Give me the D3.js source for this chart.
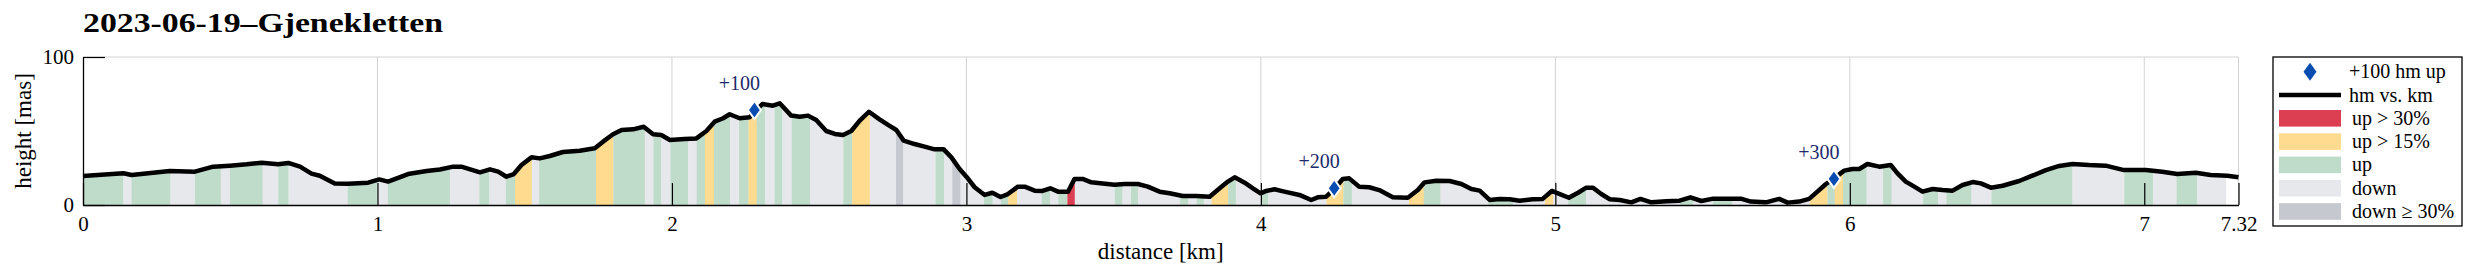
<!DOCTYPE html>
<html>
<head>
<meta charset="utf-8">
<script src="https://cdn.jsdelivr.net/npm/d3@7"></script>
<style>
  body { margin: 0; background: #fff; }
  svg text { font-family: "Liberation Serif", "Times New Roman", serif; }
</style>
</head>
<body>
<div class="container"></div>
<script>
const title = '2023-06-19–Gjenekletten';

// elevation profile (km, m)
const dist = [0, 0.137, 0.165, 0.295, 0.38, 0.442, 0.499, 0.556, 0.607, 0.663, 0.697, 0.737, 0.776, 0.804, 0.855, 0.9, 0.968,
  1.006, 1.036, 1.104, 1.167, 1.212, 1.257, 1.285, 1.348, 1.382, 1.41, 1.438, 1.463, 1.489, 1.523, 1.551, 1.585, 1.63, 1.687,
  1.738, 1.766, 1.8, 1.829, 1.868, 1.904, 1.936, 1.964, 1.993, 2.043, 2.083, 2.117, 2.145, 2.174, 2.196, 2.23, 2.264, 2.307,
  2.343, 2.366, 2.405, 2.434, 2.462, 2.49, 2.524, 2.553, 2.581, 2.609, 2.637, 2.669, 2.705, 2.734, 2.762, 2.787, 2.824, 2.858,
  2.892, 2.923, 2.949, 2.977, 3.0, 3.028, 3.062, 3.088, 3.116, 3.141, 3.175, 3.198, 3.232, 3.258, 3.285, 3.311, 3.345, 3.367,
  3.395, 3.424, 3.463, 3.503, 3.537, 3.582, 3.616, 3.656, 3.69, 3.735, 3.781, 3.826, 3.86, 3.888, 3.911, 3.945, 3.973, 3.999,
  4.018, 4.046, 4.08, 4.131, 4.171, 4.193, 4.222, 4.25, 4.278, 4.3, 4.334, 4.368, 4.402, 4.448, 4.499, 4.533, 4.556, 4.596,
  4.641, 4.681, 4.715, 4.743, 4.777, 4.81, 4.845, 4.879, 4.923, 4.957, 4.988, 5.009, 5.046, 5.077, 5.105, 5.128, 5.156, 5.185,
  5.219, 5.258, 5.289, 5.326, 5.377, 5.422, 5.459, 5.496, 5.536, 5.585, 5.63, 5.664, 5.715, 5.76, 5.789, 5.828, 5.862, 5.89,
  5.919, 5.95, 5.981, 6.009, 6.032, 6.06, 6.1, 6.139, 6.162, 6.19, 6.219, 6.247, 6.281, 6.315, 6.349, 6.383, 6.417, 6.445,
  6.479, 6.519, 6.575, 6.62, 6.666, 6.711, 6.756, 6.812, 6.869, 6.931, 7.005, 7.061, 7.112, 7.175, 7.225, 7.282, 7.32];
const elev = [19.6, 21.4, 20.3, 23, 22.5, 25.9, 26.6, 27.5, 28.6, 27.5, 28.4, 25.9, 21.2, 19.8, 14.6, 14.4, 15.1,
  17.3, 15.8, 20.9, 23, 24, 25.9, 25.9, 22.1, 24.1, 22.5, 19.1, 20.9, 27, 32.2, 31.5, 33.1, 35.8, 36.7,
  38.3, 42.8, 47.8, 50.7, 51.1, 52.9, 47.8, 47.3, 43.9, 44.6, 45, 50, 56.3, 58.6, 61.3, 58.6, 59.3, 68.2,
  67.1, 68.7, 60.4, 59.7, 60.4, 57.4, 50, 48, 47.3, 50, 56.8, 63, 57.9, 54.1, 50.7, 43.5, 41.2, 39.4,
  37.6, 37.6, 32.2, 24.3, 19.1, 12, 6.8, 8.3, 5.4, 7.4, 12.4, 12.4, 9.7, 9.5, 11.3, 9, 9, 17.6,
  17.6, 15.3, 14.6, 13.7, 14.2, 14.2, 12.4, 9, 7.9, 6.1, 6.1, 5.6, 11.3, 15.8, 18.7, 15.1, 11.3, 7.9,
  9.5, 10.6, 9, 6.8, 3.4, 5.2, 5.6, 11, 17.6, 18, 12.4, 12, 10.1, 5.2, 4.9, 10.1, 15.3, 16.4,
  16.2, 14.2, 10.8, 9.7, 3.4, 4.1, 3.9, 2.9, 3.9, 4.1, 9.5, 7.9, 4.9, 8.3, 11.7, 11.7, 7.4, 3.9,
  3.4, 1.8, 4.1, 1.8, 2.5, 2.9, 5.2, 2.7, 4.3, 4.3, 4.3, 2.3, 1.8, 4.1, 1.6, 2.3, 4.1, 9,
  14.2, 18.5, 23.2, 24.3, 24.3, 27.7, 25.9, 27, 21.4, 15.8, 12.4, 9, 10.8, 10.1, 9.7, 13.5, 15.5, 14.6,
  11.7, 13, 16.2, 19.8, 23.6, 26.4, 27.7, 27, 26.6, 23.6, 23.6, 22.5, 20.9, 21.8, 20.3, 19.8, 18.7];

// slope bands: edges in km, one type per band
const bandEdges = [0, 0.137, 0.165, 0.297, 0.38, 0.468, 0.499, 0.61, 0.663, 0.698, 0.899, 0.998, 1.035, 1.246, 1.346,
  1.38, 1.436, 1.467, 1.524, 1.549, 1.742, 1.801, 1.908, 1.937, 1.964, 1.995, 2.055, 2.084, 2.112, 2.143, 2.197, 2.228,
  2.26, 2.288, 2.316, 2.349, 2.375, 2.407, 2.469, 2.582, 2.612, 2.672, 2.761, 2.785, 2.895, 2.924, 2.952, 2.98, 3.06,
  3.089, 3.117, 3.142, 3.172, 3.256, 3.285, 3.312, 3.343, 3.368, 3.504, 3.53, 3.559, 3.583, 3.725, 3.754, 3.782, 3.806,
  3.833, 3.889, 3.915, 4.0, 4.025, 4.223, 4.28, 4.309, 4.503, 4.553, 4.61, 4.772, 4.856, 4.965, 4.993, 5.044, 5.104,
  5.423, 5.467, 5.535, 5.599, 5.864, 5.924, 5.949, 5.977, 6.057, 6.113, 6.142, 6.249, 6.3, 6.328, 6.413, 6.481, 6.756,
  6.932, 7.03, 7.11, 7.179, 7.277];
const bandType = ['up', 'down', 'up', 'down', 'up', 'down', 'up', 'down', 'up', 'down', 'up', 'down', 'up', 'down',
  'up', 'down', 'up', 'up15', 'down', 'up', 'up15', 'up', 'down', 'up', 'down', 'up', 'down', 'up', 'up15', 'up',
  'down', 'up', 'up15', 'up', 'down', 'up', 'down', 'up', 'down', 'up', 'up15', 'down', 'down30', 'down', 'up', 'down',
  'down30', 'down', 'up', 'down', 'up', 'up15', 'down', 'up', 'down', 'up', 'up30', 'down', 'up', 'down', 'up', 'down',
  'up', 'down', 'up', 'down', 'up15', 'up', 'down', 'up', 'down', 'up15', 'up', 'down', 'up15', 'up', 'down', 'up',
  'down', 'up15', 'down', 'up', 'down', 'up', 'down', 'up', 'down', 'up15', 'up', 'up15', 'up', 'down', 'up', 'down',
  'up', 'down', 'up', 'down', 'up', 'down', 'up', 'down', 'up', 'down'];

// +100 hm markers
const markerKm = [2.28, 4.249, 5.946];
const markerHm = [64.2, 11.3, 17.6];
const markerLabels = ['+100', '+200', '+300'];

const xTicks = [0, 1, 2, 3, 4, 5, 6, 7, 7.32];
const yTicks = [0, 100];

const colors = {
  up30: '#dc3e52',
  up15: '#fedb8e',
  up: '#bfdccb',
  down: '#e7e8ec',
  down30: '#c6c8d0'
};
const legendItems = [
  { kind: 'marker', label: '+100 hm up' },
  { kind: 'line', label: 'hm vs. km' },
  { kind: 'up30', label: 'up > 30%' },
  { kind: 'up15', label: 'up > 15%' },
  { kind: 'up', label: 'up' },
  { kind: 'down', label: 'down' },
  { kind: 'down30', label: 'down ≥ 30%' }
];

const width = 2473;
const height = 276;
const markerBlue = '#0a4db2';

const svg = d3.select('.container')
  .append('svg')
  .attr('width', width)
  .attr('height', height);

const x = d3.scaleLinear().domain([0, 7.32]).range([83, 2238.5]);
const y = d3.scaleLinear().domain([0, 100]).range([205, 57]);

// title
svg.append('text')
  .attr('x', 83)
  .attr('y', 32)
  .attr('font-size', 28)
  .attr('font-weight', 'bold')
  .attr('textLength', 360)
  .attr('lengthAdjust', 'spacingAndGlyphs')
  .text(title);

// grid
const grid = svg.append('g').attr('stroke', '#d2d2d2').attr('stroke-width', 1);
grid.selectAll('line.v')
  .data(xTicks.slice(1))
  .enter()
  .append('line')
  .attr('x1', d => x(d)).attr('x2', d => x(d))
  .attr('y1', y(100)).attr('y2', y(0));
grid.append('line')
  .attr('x1', x(0)).attr('x2', x(7.32))
  .attr('y1', y(100)).attr('y2', y(100));

// slope bands, clipped to the area under the profile
const points = dist.map((d, i) => [d, elev[i]]);
const area = d3.area().x(d => x(d[0])).y0(y(0)).y1(d => y(d[1]));
svg.append('clipPath')
  .attr('id', 'under')
  .append('path')
  .attr('d', area(points));

svg.append('g')
  .attr('clip-path', 'url(#under)')
  .selectAll('rect')
  .data(bandType)
  .enter()
  .append('rect')
  .attr('x', (d, i) => x(bandEdges[i]))
  .attr('width', (d, i) => x(bandEdges[i + 1]) - x(bandEdges[i]) + 0.3)
  .attr('y', y(100))
  .attr('height', y(0) - y(100))
  .attr('fill', d => colors[d]);

// axes
const xAxis = svg.append('g')
  .attr('transform', `translate(0, ${y(0)})`)
  .call(d3.axisBottom(x).tickValues(xTicks).tickSize(-22).tickSizeOuter(0).tickPadding(11)
    .tickFormat(d => d === 7.32 ? '7.32' : d3.format('d')(d)));
xAxis.selectAll('text').attr('font-size', 21).attr('fill', '#000');

const yAxis = svg.append('g')
  .attr('transform', `translate(${x(0)}, 0)`)
  .call(d3.axisLeft(y).tickValues(yTicks).tickSize(-22).tickSizeOuter(0).tickPadding(9));
yAxis.selectAll('text').attr('font-size', 21).attr('fill', '#000');
[xAxis, yAxis].forEach(a => {
  a.select('.domain').attr('stroke', '#000').attr('stroke-width', 1.3);
  a.selectAll('.tick line').attr('stroke', '#000').attr('stroke-width', 1.2);
});

// right border
svg.append('line')
  .attr('x1', x(7.32)).attr('x2', x(7.32))
  .attr('y1', y(100)).attr('y2', y(0) - 22)
  .attr('stroke', '#d2d2d2');

// axis labels
svg.append('text')
  .attr('x', (x(0) + x(7.32)) / 2)
  .attr('y', 259)
  .attr('text-anchor', 'middle')
  .attr('font-size', 23)
  .text('distance [km]');
svg.append('text')
  .attr('transform', `translate(31, ${(y(0) + y(100)) / 2}) rotate(-90)`)
  .attr('text-anchor', 'middle')
  .attr('font-size', 23)
  .text('height [mas]');

// profile line
svg.append('path')
  .datum(points)
  .attr('fill', 'none')
  .attr('stroke', '#000')
  .attr('stroke-width', 4.5)
  .attr('stroke-linejoin', 'round')
  .attr('d', d3.line().x(d => x(d[0])).y(d => y(d[1])));

// markers
const diamond = (w, h) => `M0,${-h}L${w},0L0,${h}L${-w},0Z`;
const markers = svg.append('g');
markers.selectAll('path')
  .data(markerKm)
  .enter()
  .append('path')
  .attr('transform', (d, i) => `translate(${x(d)}, ${y(markerHm[i])})`)
  .attr('d', diamond(6.5, 9))
  .attr('fill', markerBlue)
  .attr('stroke', '#fff')
  .attr('stroke-width', 2);
markers.selectAll('text')
  .data(markerKm)
  .enter()
  .append('text')
  .attr('x', d => x(d) - 15)
  .attr('y', (d, i) => y(markerHm[i]) - 20)
  .attr('text-anchor', 'middle')
  .attr('font-size', 20)
  .attr('fill', '#1c2a6b')
  .text((d, i) => markerLabels[i]);

// legend
const legend = svg.append('g').attr('transform', 'translate(2273, 57)');
legend.append('rect')
  .attr('width', 189)
  .attr('height', 169)
  .attr('fill', '#fff')
  .attr('stroke', '#000')
  .attr('stroke-width', 1.3);

const rowY = i => 14.7 + i * 23.3;
legendItems.forEach((item, i) => {
  const g = legend.append('g').attr('transform', `translate(0, ${rowY(i)})`);
  if (item.kind === 'marker') {
    g.append('path')
      .attr('transform', 'translate(37, 0)')
      .attr('d', diamond(6.5, 9))
      .attr('fill', markerBlue);
  } else if (item.kind === 'line') {
    g.append('line')
      .attr('x1', 6).attr('x2', 68)
      .attr('stroke', '#000')
      .attr('stroke-width', 4.5);
  } else {
    g.append('rect')
      .attr('x', 6).attr('y', -8.3)
      .attr('width', 62).attr('height', 16.6)
      .attr('fill', colors[item.kind]);
  }
  g.append('text')
    .attr('x', i < 2 ? 76 : 79)
    .attr('y', 6.5)
    .attr('font-size', 20)
    .text(item.label);
});
</script>
</body>
</html>
